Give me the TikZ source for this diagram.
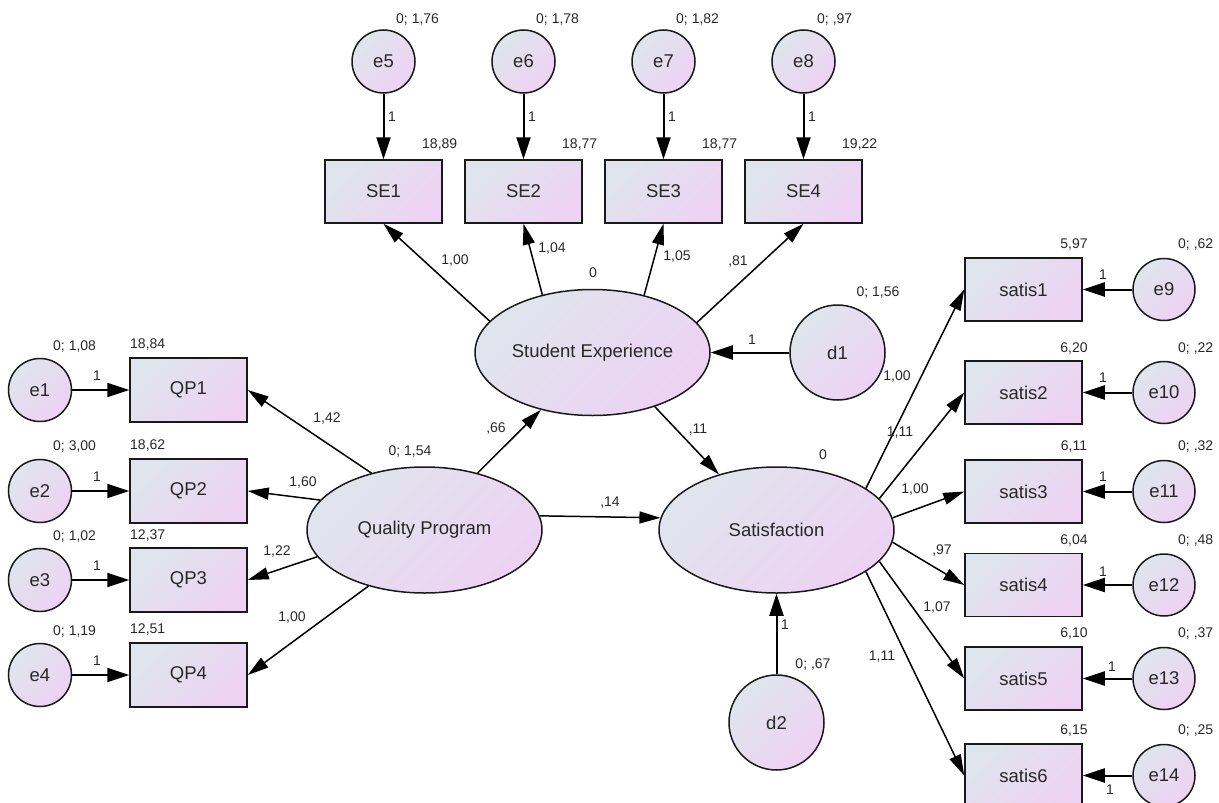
\documentclass[tikz,border=0pt]{standalone}
\usepackage{fontspec}
\setmainfont{Liberation Sans}
\usetikzlibrary{shapes.geometric,arrows.meta}
\definecolor{cA}{RGB}{224,229,237}
\definecolor{cB}{RGB}{237,210,243}
\definecolor{txt}{RGB}{40,40,40}
\begin{document}
\begin{tikzpicture}[x=1pt,y=-1pt,
  shp/.style={draw=black!90, line width=1.5pt, left color=cA, right color=cB, shading angle=45, text=txt, font=\fontsize{18.5}{22}\selectfont, inner sep=0pt},
  circA/.style={shp, circle, minimum size=63pt},
  circB/.style={shp, circle, minimum size=95pt},
  obs/.style={shp, rectangle, minimum width=117pt, minimum height=63pt},
  lat/.style={shp, ellipse, minimum width=235pt, minimum height=126pt},
  lbl/.style={font=\fontsize{14}{16}\selectfont, text=txt, inner sep=0pt},
  pth/.style={line width=1.5pt, -{Triangle[length=21pt,width=12pt]}},
  errp/.style={line width=2pt, -{Triangle[length=22pt,width=14pt]}}]
\useasboundingbox (0,0) rectangle (1219,803);

% top row
\node[circA] (e5) at (383.5,61.5) {e5};
\node[circA] (e6) at (523.5,61.5) {e6};
\node[circA] (e7) at (663.5,61.5) {e7};
\node[circA] (e8) at (803.5,61.5) {e8};
\node[obs] (SE1) at (383.5,191.5) {SE1};
\node[obs] (SE2) at (523.5,191.5) {SE2};
\node[obs] (SE3) at (663.5,191.5) {SE3};
\node[obs] (SE4) at (803.5,191.5) {SE4};

% latent
\node[lat] (SE) at (592.5,352.5) {Student Experience};
\node[circB] (d1) at (837.5,352.5) {d1};
\node[lat] (QP) at (424.5,530) {Quality Program};
\node[lat] (SAT) at (776.5,530) {Satisfaction};
\node[circB] (d2) at (776.5,722.5) {d2};

% left
\node[obs, minimum height=64pt] (QP1) at (188.5,390) {QP1};
\node[obs, minimum height=64pt] (QP2) at (188.5,491) {QP2};
\node[obs, minimum height=64pt] (QP3) at (188.5,580) {QP3};
\node[obs, minimum height=64pt] (QP4) at (188.5,675) {QP4};
\node[circA] (e1) at (40,390) {e1};
\node[circA] (e2) at (40,491) {e2};
\node[circA] (e3) at (40,580) {e3};
\node[circA] (e4) at (40,675) {e4};

% right
\node[obs] (s1) at (1023.5,289.5) {satis1};
\node[obs] (s2) at (1023.5,392.5) {satis2};
\node[obs] (s3) at (1023.5,491.5) {satis3};
\node[obs] (s4) at (1023.5,585) {satis4};
\node[obs] (s5) at (1023.5,678.5) {satis5};
\node[obs] (s6) at (1023.5,775.5) {satis6};
\node[circA, minimum size=62pt] (e9) at (1164,289.5) {e9};
\node[circA, minimum size=62pt] (e10) at (1164,392.5) {e10};
\node[circA, minimum size=62pt] (e11) at (1164,491.5) {e11};
\node[circA, minimum size=62pt] (e12) at (1164,585) {e12};
\node[circA, minimum size=62pt] (e13) at (1164,678.5) {e13};
\node[circA, minimum size=62pt] (e14) at (1164,775.5) {e14};

% error arrows
\draw[errp] (e5) -- (SE1);
\draw[errp] (e6) -- (SE2);
\draw[errp] (e7) -- (SE3);
\draw[errp] (e8) -- (SE4);
\draw[errp] (e1) -- (QP1);
\draw[errp] (e2) -- (QP2);
\draw[errp] (e3) -- (QP3);
\draw[errp] (e4) -- (QP4);
\draw[errp] (e9) -- (s1);
\draw[errp] (e10) -- (s2);
\draw[errp] (e11) -- (s3);
\draw[errp] (e12) -- (s4);
\draw[errp] (e13) -- (s5);
\draw[errp] (e14) -- (s6);
\draw[errp] (d1) -- (SE);
\draw[errp] (d2) -- (SAT);

% structural / loadings
\draw[pth] (SE.163.7) -- (SE1.south);
\draw[pth] (SE.131) -- (SE2.south);
\draw[pth] (SE.48.6) -- (SE3.south);
\draw[pth] (SE.16.1) -- (SE4.south);
\draw[pth] (QP.133.7) -- (QP1.east);
\draw[pth] (QP.164.8) -- (QP2.east);
\draw[pth] (QP.194) -- (QP3.east);
\draw[pth] (QP.225.3) -- (QP4.east);
\draw[pth] (QP.47) -- (SE.228.6);
\draw[pth] (QP.7.8) -- (SAT.174);
\draw[pth] (SE.-41.6) -- (SAT.136);
\draw[pth] (SAT.25) -- (s1.west);
\draw[pth] (SAT.17) -- (s2.west);
\draw[pth] (SAT.6.5) -- (s3.west);
\draw[pth] (SAT.-6.5) -- (s4.west);
\draw[pth] (SAT.-17) -- (s5.west);
\draw[pth] (SAT.-25) -- (s6.west);

% labels top
\node[lbl, anchor=west] (t1) at (396,20) {0; 1,76};
\node[lbl, anchor=west] (t2) at (536,20) {0; 1,78};
\node[lbl, anchor=west] (t3) at (676,20) {0; 1,82};
\node[lbl, anchor=west] (t4) at (817,20) {0; ,97};
\node[lbl, anchor=west] (t5) at (422,145) {18,89};
\node[lbl, anchor=west] (t6) at (562,145) {18,77};
\node[lbl, anchor=west] (t7) at (702,145) {18,77};
\node[lbl, anchor=west] (t8) at (842,145) {19,22};
\node[lbl] (t9) at (392,117) {1};
\node[lbl] (t10) at (532,117) {1};
\node[lbl] (t11) at (672,117) {1};
\node[lbl] (t12) at (812,117) {1};

% labels left
\node[lbl, anchor=west] (l1) at (53,347) {0; 1,08};
\node[lbl, anchor=west] (l2) at (130,345) {18,84};
\node[lbl, anchor=west] (l3) at (53,447) {0; 3,00};
\node[lbl, anchor=west] (l4) at (130,446) {18,62};
\node[lbl, anchor=west] (l5) at (53,537) {0; 1,02};
\node[lbl, anchor=west] (l6) at (130,536) {12,37};
\node[lbl, anchor=west] (l7) at (53,632) {0; 1,19};
\node[lbl, anchor=west] (l8) at (130,630) {12,51};
\node[lbl] (l9) at (97,376) {1};
\node[lbl] (l10) at (97,477) {1};
\node[lbl] (l11) at (97,566) {1};
\node[lbl] (l12) at (97,661) {1};

% labels center
\node[lbl] (c1) at (327,419) {1,42};
\node[lbl] (c2) at (303,483) {1,60};
\node[lbl] (c3) at (277,552) {1,22};
\node[lbl] (c4) at (292,618) {1,00};
\node[lbl] (c5) at (410,452) {0; 1,54};
\node[lbl] (c6) at (496,429) {,66};
\node[lbl] (c7) at (610,503) {,14};
\node[lbl] (c8) at (698,430) {,11};
\node[lbl] (c9) at (593,273) {0};
\node[lbl] (c10) at (455,261) {1,00};
\node[lbl] (c11) at (552,249) {1,04};
\node[lbl] (c12) at (677,257) {1,05};
\node[lbl] (c13) at (738,262) {,81};
\node[lbl] (c14) at (752,340) {1};
\node[lbl] (c15) at (878,293) {0; 1,56};
\node[lbl] (c16) at (823,455) {0};
\node[lbl] (c17) at (785,625) {1};
\node[lbl] (c18) at (813,665) {0; ,67};

% labels right
\node[lbl] (r1) at (897,377) {1,00};
\node[lbl] (r2) at (900,433) {1,11};
\node[lbl] (r3) at (915,490) {1,00};
\node[lbl] (r4) at (942,551) {,97};
\node[lbl] (r5) at (937,608) {1,07};
\node[lbl] (r6) at (882,657) {1,11};
\node[lbl] (r7) at (1074,245) {5,97};
\node[lbl] (r8) at (1074,349) {6,20};
\node[lbl] (r9) at (1074,447) {6,11};
\node[lbl] (r10) at (1074,541) {6,04};
\node[lbl] (r11) at (1074,634) {6,10};
\node[lbl] (r12) at (1074,731) {6,15};
\node[lbl, anchor=west] (r13) at (1178,245) {0; ,62};
\node[lbl, anchor=west] (r14) at (1178,349) {0; ,22};
\node[lbl, anchor=west] (r15) at (1178,447) {0; ,32};
\node[lbl, anchor=west] (r16) at (1178,541) {0; ,48};
\node[lbl, anchor=west] (r17) at (1178,634) {0; ,37};
\node[lbl, anchor=west] (r18) at (1178,731) {0; ,25};
\node[lbl] (r19) at (1103,275) {1};
\node[lbl] (r20) at (1103,378) {1};
\node[lbl] (r21) at (1103,477) {1};
\node[lbl] (r22) at (1103,572) {1};
\node[lbl] (r23) at (1112,667) {1};
\node[lbl] (r24) at (1110,790) {1};
\end{tikzpicture}
\end{document}
